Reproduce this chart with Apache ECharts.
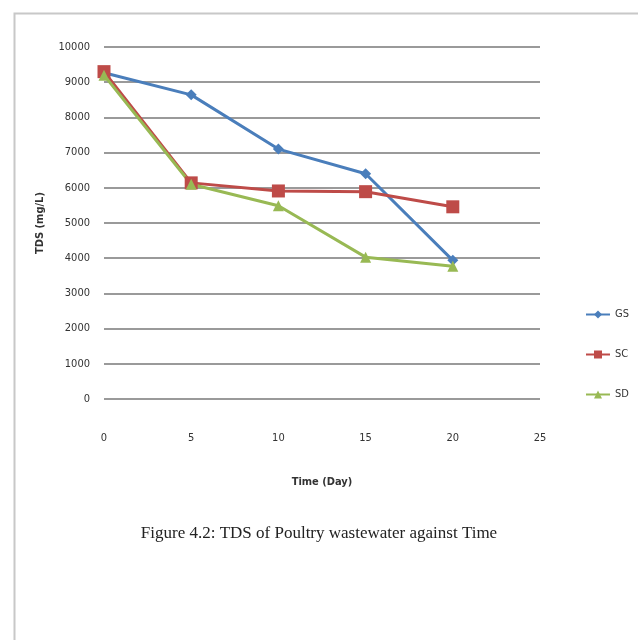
<!DOCTYPE html>
<html><head><meta charset="utf-8">
<script src="https://cdn.jsdelivr.net/npm/echarts@6/dist/echarts.min.js"></script>
<style>html,body{margin:0;padding:0;background:#fff}#c{width:638px;height:640px}</style>
</head><body><div id="c"></div>
<script>
const days = [0, 5, 10, 15, 20];
const gsValues = [9270, 8640, 7100, 6400, 3940];
const scValues = [9300, 6140, 5910, 5890, 5460];
const sdValues = [9200, 6100, 5490, 4030, 3770];
const seriesNames = ['GS', 'SC', 'SD'];

const pairs = v => days.map((d, i) => [d, v[i]]);
const font = '"Liberation Sans Narrow", "DejaVu Sans Condensed", "Roboto", sans-serif';
const chart = echarts.init(document.getElementById('c'), null, {renderer: 'canvas'});
const mk = (name, data, color, symbol, size) => ({
  name, type: 'line', data: pairs(data), symbol, symbolSize: size,
  lineStyle: {color, width: 3}, itemStyle: {color}, z: 3
});
chart.setOption({
  animation: false,
  backgroundColor: '#fff',
  graphic: [{type: 'rect', shape: {x: 14.5, y: 13.5, width: 700, height: 700},
    style: {fill: 'none', stroke: '#c8c8c8', lineWidth: 2}, z: -1}],
  title: {text: 'Figure 4.2: TDS of Poultry wastewater against Time', left: 'center', top: 520,
    textStyle: {fontFamily: '"Liberation Serif", serif', fontWeight: 'normal', fontSize: 17, color: '#222'}},
  grid: {left: 104, right: 98, top: 47, bottom: 241},
  legend: {orient: 'vertical', left: 580, top: 304, itemGap: 29, itemWidth: 24, itemHeight: 10,
    data: seriesNames, textStyle: {fontFamily: font, fontSize: 11, color: '#333'}},
  xAxis: {type: 'value', min: 0, max: 25, interval: 5,
    name: 'Time (Day)', nameLocation: 'middle', nameGap: 78,
    nameTextStyle: {fontFamily: font, fontSize: 11, fontWeight: 'bold', color: '#333'},
    axisLine: {show: false}, axisTick: {show: false}, splitLine: {show: false},
    axisLabel: {margin: 34, fontFamily: font, fontSize: 11, color: '#333'}},
  yAxis: {type: 'value', min: 0, max: 10000, interval: 1000,
    name: 'TDS (mg/L)', nameLocation: 'middle', nameGap: 58, nameRotate: 90,
    nameTextStyle: {fontFamily: font, fontSize: 11, fontWeight: 'bold', color: '#333'},
    axisLine: {show: false}, axisTick: {show: false},
    splitLine: {lineStyle: {color: '#9a9a9a', width: 2}},
    axisLabel: {margin: 14, fontFamily: font, fontSize: 11, color: '#333', formatter: v => String(v)}},
  series: [
    mk('GS', gsValues, '#4a7ebb', 'diamond', 11),
    mk('SC', scValues, '#be4b48', 'rect', 13),
    mk('SD', sdValues, '#98b954', 'triangle', 11)
  ]
});
</script></body></html>
